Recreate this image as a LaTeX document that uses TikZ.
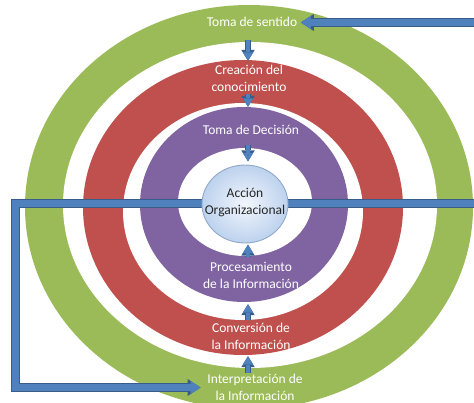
\documentclass[tikz,border=0pt]{standalone}
\usepackage{fontspec}
\setmainfont{Carlito}
\usetikzlibrary{shapes.geometric,arrows.meta,calc}
\pgfdeclarelayer{rings}
\pgfdeclarelayer{arrowlayer}
\pgfsetlayers{rings,arrowlayer,main}
\definecolor{rgreen}{HTML}{9BBB59}
\definecolor{rred}{HTML}{C0504D}
\definecolor{rpurple}{HTML}{8064A2}
\definecolor{ablue}{HTML}{4F81BD}
\definecolor{aedge}{HTML}{385D8A}
\definecolor{acin}{HTML}{F2F6FC}
\definecolor{acout}{HTML}{BDD2EE}
\definecolor{acborder}{HTML}{8FA8C8}
\tikzset{
  lbl/.style={align=center, inner sep=1pt, text=white, font=\fontsize{13.5}{17}\selectfont},
  darklbl/.style={lbl, text=black!85},
  smallarrow/.style={draw=ablue, line width=4.6pt, line join=miter, shorten >=1.2pt,
     -{Triangle[length=8.5pt,width=10.5pt,line width=0pt]},
     preaction={draw=aedge, line width=6.6pt, line join=miter,
     -{Triangle[length=11pt,width=13.5pt,line width=0pt]}}},
  bigarrow/.style={draw=ablue, line width=6.4pt, line join=miter, shorten >=1.4pt,
     -{Triangle[length=10pt,width=13pt,line width=0pt]},
     preaction={draw=aedge, line width=8.4pt, line join=miter,
     -{Triangle[length=13pt,width=17pt,line width=0pt]}}},
  centre/.style={ellipse, draw=acborder, line width=0.9pt, inner color=acin, outer color=acout,
     minimum width=86pt, minimum height=78pt, inner sep=0pt}
}
\begin{document}
\begin{tikzpicture}[x=1pt,y=-1pt]
\useasboundingbox (0,0) rectangle (474,402);
\clip (0,0) rectangle (474,402);
\begin{pgfonlayer}{rings}
\fill[white] (0,0) rectangle (474,402);
\fill[rgreen] (249,207) ellipse [x radius=224pt, y radius=202pt];
\fill[white] (250,205) ellipse [x radius=187pt, y radius=163pt];
\fill[rred] (243,207.5) ellipse [x radius=160pt, y radius=147.5pt];
\fill[white] (243,211.5) ellipse [x radius=120pt, y radius=108.5pt];
\fill[rpurple] (244,204.5) ellipse [x radius=104pt, y radius=97.5pt];
\fill[white] (245,202) ellipse [x radius=67pt, y radius=54pt];
\end{pgfonlayer}
% centre
\node[centre] (ac) at (245,204) {};
\coordinate (axis) at (248,0);
% labels
\node[lbl] (sentido) at (252,22) {Toma de sentido};
\node[lbl] (creacion) at (249,78) {Creación del\\conocimiento};
\node[lbl] (decision) at (251,130) {Toma de Decisión};
\node[darklbl] (actext) at (245,202.5) {Acción\\Organizacional};
\node[lbl] (proces) at (251,275) {Procesamiento\\de la Información};
\node[lbl] (conver) at (251,336) {Conversión de\\la Información};
\node[lbl] (interp) at (255,387) {Interpretación de\\la Información};
\begin{pgfonlayer}{arrowlayer}
% small arrows
\draw[smallarrow] ($(axis |- sentido)+(0,18)$) -- ($(axis |- creacion)+(0,-16)$);
\draw[smallarrow] ($(axis |- creacion)+(0,16)$) -- ($(axis |- decision)+(0,-22)$);
\draw[smallarrow] ($(axis |- decision)+(0,15)$) -- ($(axis |- ac.north)+(0,-2)$);
\draw[smallarrow] ($(axis |- proces)+(0,-18)$) -- ($(axis |- ac.south)+(0,0)$);
\draw[smallarrow] ($(axis |- conver)+(0,-16)$) -- ($(axis |- proces)+(0,28)$);
\draw[smallarrow] ($(axis |- interp)+(0,-14)$) -- ($(axis |- conver)+(0,19)$);
% big arrows
\coordinate (lbot) at (15.5,387.5);
\coordinate (rtop) at (490,22.5);
\draw[bigarrow] ([yshift=0.5pt]ac.west) -| (lbot) -- ($(interp.center)+(-53,0.5)$);
\draw[bigarrow] ([yshift=0.5pt]ac.east) -| (rtop) -- ($(sentido.east)+(1,0.5)$);
\end{pgfonlayer}
\end{tikzpicture}
\end{document}
